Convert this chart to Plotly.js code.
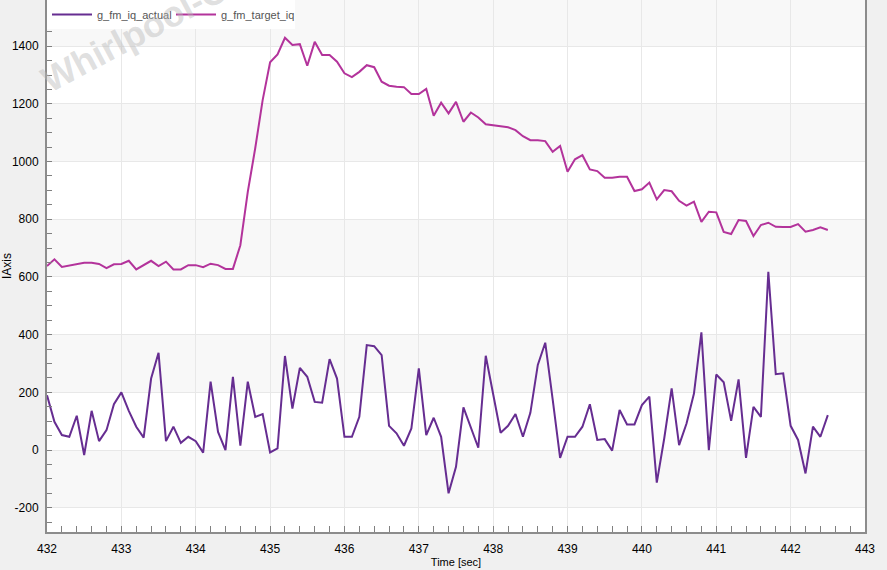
<!DOCTYPE html>
<html>
<head>
<meta charset="utf-8">
<script src="https://cdn.plot.ly/plotly-3.0.1.min.js"></script>
<style>
  html, body { margin: 0; padding: 0; background: #f0f0f0; }
  #chart { width: 887px; height: 570px; }
</style>
</head>
<body>
<div id="chart"></div>
<script>
// Time axis: samples every 0.1 s from 432.0 to 442.5
const tStart = 432.0;
const tStep = 0.1;

const seriesNames = ["g_fm_iq_actual", "g_fm_target_iq"];

const iqActual = [
  190, 98, 52, 46, 119, -17, 136, 31, 69, 159,
  200, 136, 81, 43, 248, 337, 31, 81, 25, 46,
  31, -9, 237, 63, 0, 254, 15, 237, 115, 125,
  -8, 6, 326, 144, 285, 254, 167, 164, 315, 248,
  46, 46, 115, 364, 360, 329, 84, 58, 15, 75,
  283, 52, 112, 46, -150, -58, 148, 75, 8, 327,
  199, 60, 84, 125, 46, 129, 295, 372, 176, -27,
  46, 46, 81, 159, 35, 38, -2, 139, 89, 89,
  156, 185, -113, 40, 214, 17, 92, 196, 408, 0,
  262, 235, 101, 245, -27, 150, 115, 618, 263, 266,
  84, 35, -81, 81, 46, 121
];

const iqTarget = [
  638, 661, 635, 640, 645, 649, 649, 645, 631, 644,
  645, 656, 626, 640, 656, 638, 653, 626, 626, 641,
  641, 634, 646, 641, 628, 628, 710, 895, 1046, 1213,
  1344, 1371, 1429, 1404, 1407, 1332, 1415, 1369, 1369, 1346,
  1306, 1293, 1311, 1334, 1327, 1277, 1263, 1259, 1258, 1234,
  1234, 1252, 1159, 1204, 1167, 1207, 1138, 1170, 1153, 1129,
  1125, 1121, 1119, 1109, 1088, 1074, 1074, 1071, 1034, 1054,
  965, 1008, 1022, 973, 967, 944, 944, 947, 947, 898,
  904, 927, 869, 901, 897, 864, 847, 861, 791, 826,
  824, 756, 749, 797, 794, 742, 780, 788, 774, 773,
  773, 783, 757, 763, 772, 763
];

const timeSec = iqActual.map((_, i) => +(tStart + i * tStep).toFixed(1));

const xTickVals = [432, 433, 434, 435, 436, 437, 438, 439, 440, 441, 442, 443];
const yTickVals = [-200, 0, 200, 400, 600, 800, 1000, 1200, 1400];
const bandStarts = [-200, 200, 600, 1000, 1400];

const colActual = "#662d91";
const colTarget = "#b3339b";

const traces = [
  {
    x: timeSec, y: iqActual, name: seriesNames[0], type: "scatter", mode: "lines",
    line: { color: colActual, width: 2 }
  },
  {
    x: timeSec, y: iqTarget, name: seriesNames[1], type: "scatter", mode: "lines",
    line: { color: colTarget, width: 2 }
  }
];

const shapes = bandStarts.map(b => ({
  type: "rect", xref: "paper", yref: "y", x0: 0, x1: 1, y0: b, y1: b + 200,
  fillcolor: "#f8f8f8", line: { width: 0 }, layer: "below"
}));

const layout = {
  width: 887, height: 570,
  paper_bgcolor: "#f0f0f0",
  plot_bgcolor: "#ffffff",
  margin: { l: 47, r: 22, t: 0, b: 38 },
  font: { family: "Liberation Sans, Arial, sans-serif", size: 12, color: "#000" },
  showlegend: true,
  legend: {
    orientation: "h", x: 0, y: 1, xanchor: "left", yanchor: "top",
    bgcolor: "#ffffff", borderwidth: 0,
    font: { size: 11, color: "#555" },
    itemwidth: 40, tracegroupgap: 0,
    entrywidth: 69,
    traceorder: "normal"
  },
  xaxis: {
    range: [432, 443],
    tickvals: xTickVals,
    ticktext: xTickVals.map(String),
    ticks: "inside", ticklen: 6, tickcolor: "#808080", tickwidth: 1,
    minor: { dtick: 0.2, tick0: 432, ticks: "inside", ticklen: 6, tickcolor: "#808080", showgrid: false },
    showgrid: true, gridcolor: "#e8e8e8", gridwidth: 1,
    showline: true, linecolor: "#8c8c8c", linewidth: 2,
    zeroline: false,
    tickfont: { size: 12, color: "#000" },
    ticklabelstandoff: 5,
    title: { text: "Time [sec]", font: { size: 11, color: "#000" }, standoff: 3 }
  },
  yaxis: {
    range: [-284, 1560],
    tickvals: yTickVals,
    ticktext: yTickVals.map(String),
    ticks: "inside", ticklen: 5, tickcolor: "#808080", tickwidth: 1,
    minor: { dtick: 50, tick0: 0, ticks: "inside", ticklen: 5, tickcolor: "#808080", showgrid: false },
    showgrid: true, gridcolor: "#e8e8e8", gridwidth: 1,
    showline: true, linecolor: "#8c8c8c", linewidth: 2, mirror: true,
    zeroline: false,
    tickfont: { size: 12, color: "#000" },
    ticklabelstandoff: 4,
    title: { text: "IAxis", font: { size: 12, color: "#000" }, standoff: 4 }
  },
  shapes: shapes,
  annotations: [
    {
      text: "<b>Whirlpool-C</b>", xref: "paper", yref: "paper",
      x: 0.106, y: 0.936, xanchor: "center", yanchor: "middle",
      showarrow: false, textangle: -28,
      font: { family: "Liberation Sans, Arial, sans-serif", size: 36, color: "rgba(185,185,185,0.45)" }
    }
  ]
};

Plotly.newPlot("chart", traces, layout, { displayModeBar: false, staticPlot: true });
</script>
</body>
</html>
